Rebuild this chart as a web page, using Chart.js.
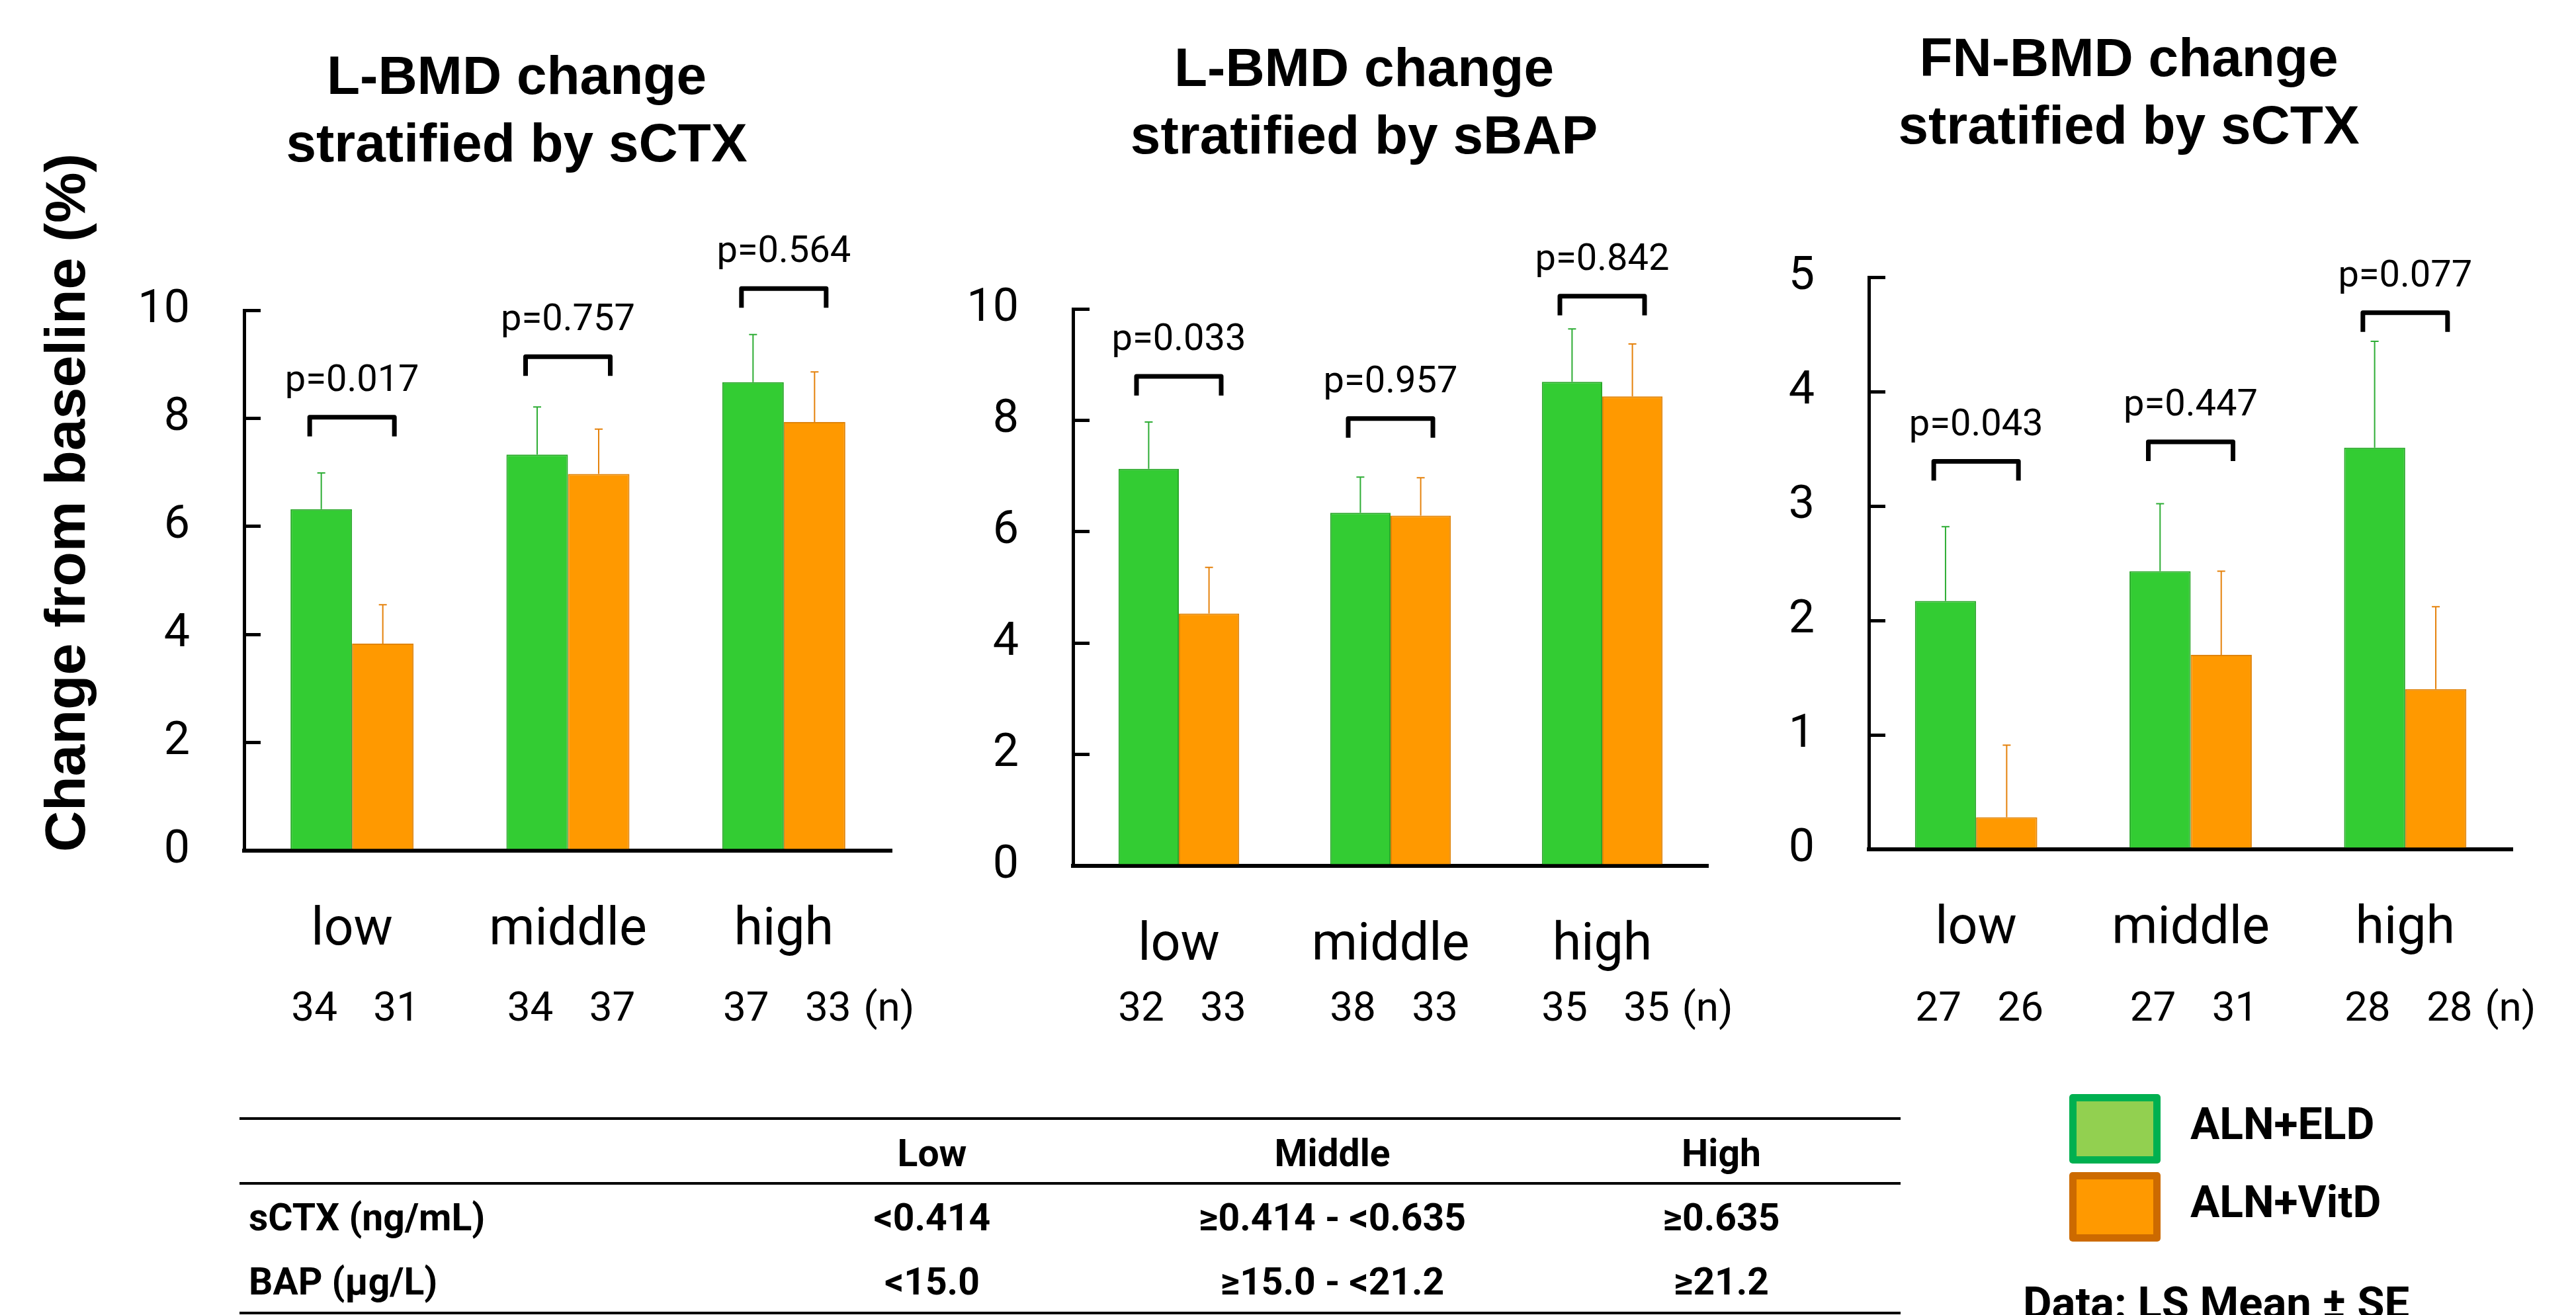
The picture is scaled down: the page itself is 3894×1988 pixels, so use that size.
<!DOCTYPE html>
<html>
<head>
<meta charset="utf-8">
<script src="https://cdn.jsdelivr.net/npm/chart.js@4.4.1/dist/chart.umd.min.js"></script>
<style>
  html, body { margin: 0; padding: 0; background: #fff; }
  body { width: 3894px; height: 1988px; position: relative; overflow: hidden; }
  canvas { position: absolute; left: 0; top: 0; }
</style>
</head>
<body>
<canvas id="c1" width="3894" height="1988"></canvas>
<canvas id="c2" width="3894" height="1988"></canvas>
<canvas id="c3" width="3894" height="1988"></canvas>
<script>
// --- data ---
const categories = ['low', 'middle', 'high'];
const seriesNames = ['ALN+ELD', 'ALN+VitD'];

// L-BMD change stratified by sCTX
const ctxLbmdEld = [6.32, 7.33, 8.67];
const ctxLbmdEldSe = [0.67, 0.88, 0.88];
const ctxLbmdVit = [3.83, 6.97, 7.93];
const ctxLbmdVitSe = [0.72, 0.83, 0.93];
const ctxLbmdP = ['p=0.017', 'p=0.757', 'p=0.564'];
const ctxLbmdBracket = [8.02, 9.14, 10.40];
const ctxLbmdNEld = [34, 34, 37];
const ctxLbmdNVit = [31, 37, 33];

// L-BMD change stratified by sBAP
const bapLbmdEld = [7.13, 6.34, 8.69];
const bapLbmdEldSe = [0.84, 0.64, 0.95];
const bapLbmdVit = [4.53, 6.29, 8.43];
const bapLbmdVitSe = [0.83, 0.68, 0.94];
const bapLbmdP = ['p=0.033', 'p=0.957', 'p=0.842'];
const bapLbmdBracket = [8.79, 8.03, 10.23];
const bapLbmdNEld = [32, 38, 35];
const bapLbmdNVit = [33, 33, 35];

// FN-BMD change stratified by sCTX
const ctxFnEld = [2.17, 2.43, 3.51];
const ctxFnEldSe = [0.65, 0.59, 0.93];
const ctxFnVit = [0.28, 1.70, 1.40];
const ctxFnVitSe = [0.63, 0.73, 0.72];
const ctxFnP = ['p=0.043', 'p=0.447', 'p=0.077'];
const ctxFnBracket = [3.39, 3.56, 4.69];
const ctxFnNEld = [27, 27, 28];
const ctxFnNVit = [26, 31, 28];

// cut-off table
const tableHeader = ['Low', 'Middle', 'High'];
const tableRowNames = ['sCTX (ng/mL)', 'BAP (\u03bcg/L)'];
const tableRows = [
  ['<0.414', '\u22650.414 - <0.635', '\u22650.635'],
  ['<15.0', '\u226515.0 - <21.2', '\u226521.2']
];

const W = 3894, H = 1988;
const numFont = 'Roboto, "Liberation Sans Narrow", sans-serif';
const titleFont = '"Liberation Sans", Arial, sans-serif';

const panels = [
  { id: 'c1', title: ['L-BMD change', 'stratified by sCTX'], titleX: 781, titleY: 142,
    area: { left: 369, right: 1348, top: 469, bottom: 1286 }, yMax: 10, yStep: 2,
    eld: ctxLbmdEld, eldSe: ctxLbmdEldSe, vit: ctxLbmdVit, vitSe: ctxLbmdVitSe,
    p: ctxLbmdP, bracket: ctxLbmdBracket, nEld: ctxLbmdNEld, nVit: ctxLbmdNVit, yTitle: true },
  { id: 'c2', title: ['L-BMD change', 'stratified by sBAP'], titleX: 2062, titleY: 130,
    area: { left: 1622, right: 2582, top: 467, bottom: 1309 }, yMax: 10, yStep: 2,
    eld: bapLbmdEld, eldSe: bapLbmdEldSe, vit: bapLbmdVit, vitSe: bapLbmdVitSe,
    p: bapLbmdP, bracket: bapLbmdBracket, nEld: bapLbmdNEld, nVit: bapLbmdNVit },
  { id: 'c3', title: ['FN-BMD change', 'stratified by sCTX'], titleX: 3218, titleY: 115,
    area: { left: 2825, right: 3798, top: 419, bottom: 1284 }, yMax: 5, yStep: 1,
    eld: ctxFnEld, eldSe: ctxFnEldSe, vit: ctxFnVit, vitSe: ctxFnVitSe,
    p: ctxFnP, bracket: ctxFnBracket, nEld: ctxFnNEld, nVit: ctxFnNVit, decor: true }
];

// table, legend and note below the panels
const decorPlugin = {
  id: 'decor',
  afterDraw(chart) {
    const ctx = chart.ctx;
    ctx.save();
    ctx.fillStyle = '#000';
    [1691, 1789, 1985].forEach(y => ctx.fillRect(362, y - 2, 2511, 4));
    const cols = [1409, 2014, 2602];
    ctx.font = 'bold 57px ' + numFont;
    ctx.textBaseline = 'alphabetic';
    ctx.textAlign = 'center';
    tableHeader.forEach((t, i) => ctx.fillText(t, cols[i], 1763));
    tableRows.forEach((row, r) => {
      const by = 1860 + r * 97;
      ctx.textAlign = 'left';
      ctx.fillText(tableRowNames[r], 376, by);
      ctx.textAlign = 'center';
      row.forEach((t, i) => ctx.fillText(t, cols[i], by));
    });

    const boxes = [['#00B050', '#92D050', 1654], ['#CC6A00', '#FF9900', 1772]];
    boxes.forEach(([edge, fill, y], i) => {
      ctx.fillStyle = edge;
      ctx.beginPath();
      ctx.roundRect(3128, y, 138, 105, 5);
      ctx.fill();
      ctx.fillStyle = fill;
      ctx.fillRect(3139, y + 11, 116, 83);
      ctx.fillStyle = '#000';
      ctx.font = 'bold 66px ' + numFont;
      ctx.textAlign = 'left';
      ctx.fillText(seriesNames[i], 3311, y + 68);
    });
    ctx.font = 'bold 67px ' + numFont;
    ctx.fillText('Data: LS Mean \u00b1 SE', 3058, 1993);
    ctx.restore();
  }
};

function makePanel(p) {
  const extras = {
    id: 'extras',
    afterDatasetsDraw(chart) {
      const ctx = chart.ctx, y = chart.scales.y;
      const se = [p.eldSe, p.vitSe];
      const col = ['#2EAD35', '#E5820C'];
      chart.data.datasets.forEach((ds, i) => {
        chart.getDatasetMeta(i).data.forEach((bar, j) => {
          const top = y.getPixelForValue(ds.data[j] + se[i][j]);
          ctx.save();
          ctx.strokeStyle = col[i];
          ctx.lineWidth = 2;
          ctx.beginPath();
          ctx.moveTo(bar.x, bar.y);
          ctx.lineTo(bar.x, top);
          ctx.moveTo(bar.x - 6, top);
          ctx.lineTo(bar.x + 6, top);
          ctx.stroke();
          ctx.restore();
        });
      });
    },
    afterDraw(chart) {
      const ctx = chart.ctx, x = chart.scales.x, y = chart.scales.y;
      ctx.save();
      ctx.fillStyle = '#000';
      ctx.strokeStyle = '#000';
      ctx.textAlign = 'center';
      ctx.textBaseline = 'alphabetic';

      // panel title
      ctx.font = 'bold 82px ' + titleFont;
      p.title.forEach((t, k) => ctx.fillText(t, p.titleX, p.titleY + k * 102));

      // brackets with p values
      ctx.lineWidth = 7;
      ctx.lineJoin = 'round';
      ctx.font = '56px ' + numFont;
      categories.forEach((c, j) => {
        const cx = x.getPixelForValue(j);
        const by = y.getPixelForValue(p.bracket[j]);
        ctx.beginPath();
        ctx.moveTo(cx - 64, by + 29);
        ctx.lineTo(cx - 64, by);
        ctx.lineTo(cx + 64, by);
        ctx.lineTo(cx + 64, by + 29);
        ctx.stroke();
        ctx.fillText(p.p[j], cx, by - 40);
      });

      // group sizes
      ctx.font = '62px ' + numFont;
      let last = 0;
      categories.forEach((c, j) => {
        const cx = x.getPixelForValue(j) + 5;
        ctx.fillText(String(p.nEld[j]), cx - 62, 1543);
        ctx.fillText(String(p.nVit[j]), cx + 62, 1543);
        last = cx + 62;
      });
      ctx.fillText('(n)', last + 92, 1543);

      if (p.yTitle) {
        ctx.translate(128, 760);
        ctx.rotate(-Math.PI / 2);
        ctx.font = 'bold 86px ' + titleFont;
        ctx.fillText('Change from baseline (%)', 0, 0);
      }
      ctx.restore();
    }
  };

  return new Chart(document.getElementById(p.id), {
    type: 'bar',
    data: {
      labels: categories,
      datasets: [
        { label: seriesNames[0], data: p.eld, backgroundColor: '#33CC33', borderColor: '#2AA82A',
          borderWidth: 2, categoryPercentage: 0.57, barPercentage: 1 },
        { label: seriesNames[1], data: p.vit, backgroundColor: '#FF9900', borderColor: '#E0840A',
          borderWidth: 2, categoryPercentage: 0.57, barPercentage: 1 }
      ]
    },
    options: {
      responsive: false,
      animation: false,
      devicePixelRatio: 1,
      layout: { padding: { left: 0, top: p.area.top, right: W - p.area.right, bottom: H - p.area.bottom - 250 } },
      plugins: { legend: { display: false }, title: { display: false }, tooltip: { enabled: false } },
      scales: {
        x: {
          grid: { display: false, drawTicks: false },
          border: { display: true, color: '#000', width: 6 },
          ticks: { color: '#000', font: { family: numFont, size: 79 }, padding: 75, autoSkip: false, maxRotation: 0 },
          afterFit: s => { s.height = 250; }
        },
        y: {
          min: 0, max: p.yMax,
          grid: { display: true, drawOnChartArea: false, drawTicks: true, tickLength: -25, color: '#000', lineWidth: 5 },
          border: { display: true, color: '#000', width: 5 },
          ticks: { stepSize: p.yStep, color: '#000', font: { family: numFont, size: 70 }, padding: 107 },
          afterFit: s => { s.width = p.area.left; }
        }
      }
    },
    plugins: p.decor ? [extras, decorPlugin] : [extras]
  });
}

panels.forEach(makePanel);
</script>
</body>
</html>
